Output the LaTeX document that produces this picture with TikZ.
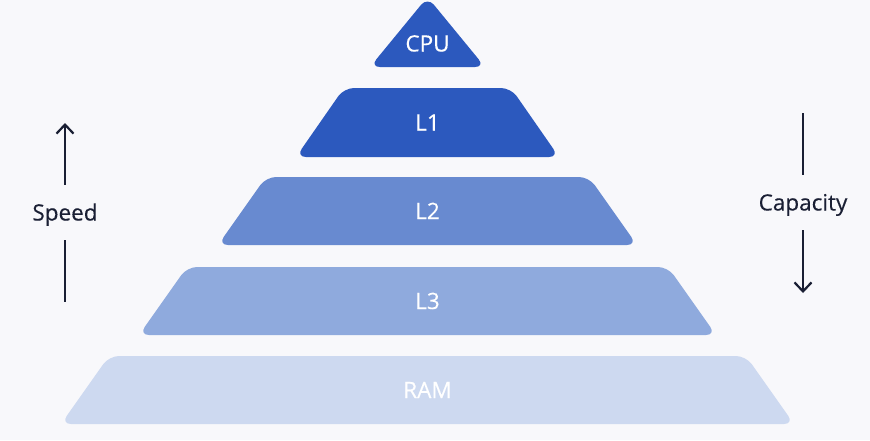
\documentclass[tikz,border=0pt]{standalone}
\usepackage{fontspec}
\setmainfont{Open Sans}
\newfontfamily\labelfont[FakeBold=0.3]{Open Sans}
\usetikzlibrary{arrows.meta}
\definecolor{paper}{RGB}{248,248,251}
\definecolor{ink}{RGB}{26,31,52}
\definecolor{topblue}{RGB}{44,89,190}
\definecolor{midblue}{RGB}{104,138,208}
\definecolor{lowblue}{RGB}{143,170,221}
\definecolor{ramblue}{RGB}{205,217,240}

\begin{document}
\begin{tikzpicture}[x=1pt, y=-1pt,
    level/.style={rounded corners=10pt},
    tag/.style={text=white, font=\labelfont\fontsize{22.5}{23}\selectfont, text height=16pt, text depth=0pt, inner sep=0pt},
    side/.style={text=ink, font=\labelfont\fontsize{22.5}{23}\selectfont, text height=16pt, text depth=0pt, inner xsep=0pt, inner ysep=19.5pt},
    flow/.style={ink, line width=2.2pt},
    flowtip/.style={flow, -{Straight Barb[length=9pt, width=17pt]}}]
      \useasboundingbox (0, 0) rectangle (870, 440);
      \fill[paper] (0, 0) rectangle (870, 440);
      % pyramid levels
      \fill[topblue, level] (427.5, -3) -- (485, 67) -- (370, 67) -- cycle;
      \fill[topblue, level] (344, 88) -- (511, 88) -- (559, 157) -- (296, 157) -- cycle;
      \fill[midblue, level] (266, 177) -- (589, 177) -- (637, 245) -- (218, 245) -- cycle;
      \fill[lowblue, level] (187, 267) -- (668, 267) -- (716, 335) -- (139, 335) -- cycle;
      \fill[ramblue, level] (109, 356) -- (746, 356) -- (794, 424) -- (61, 424) -- cycle;
      \node[tag] (cpu) at (427.5, 43.5) {CPU};
      \node[tag] (l1) at (427.5, 122.5) {L1};
      \node[tag] (l2) at (427.5, 211) {L2};
      \node[tag] (l3) at (427.5, 301) {L3};
      \node[tag] (ram) at (427.5, 390) {RAM};
      % side labels
      \node[side] (speed) at (65, 212.5) {Speed};
      \node[side] (capacity) at (803, 202.5) {Capacity};
      \coordinate (speedtop) at (65, 123);
      \coordinate (speedbot) at (65, 302);
      \coordinate (captop) at (803, 113);
      \coordinate (capbot) at (803, 293);
      \draw[flowtip] (speed) -- (speedtop);
      \draw[flow] (speed) -- (speedbot);
      \draw[flow] (capacity) -- (captop);
      \draw[flowtip] (capacity) -- (capbot);
\end{tikzpicture}
\end{document}
